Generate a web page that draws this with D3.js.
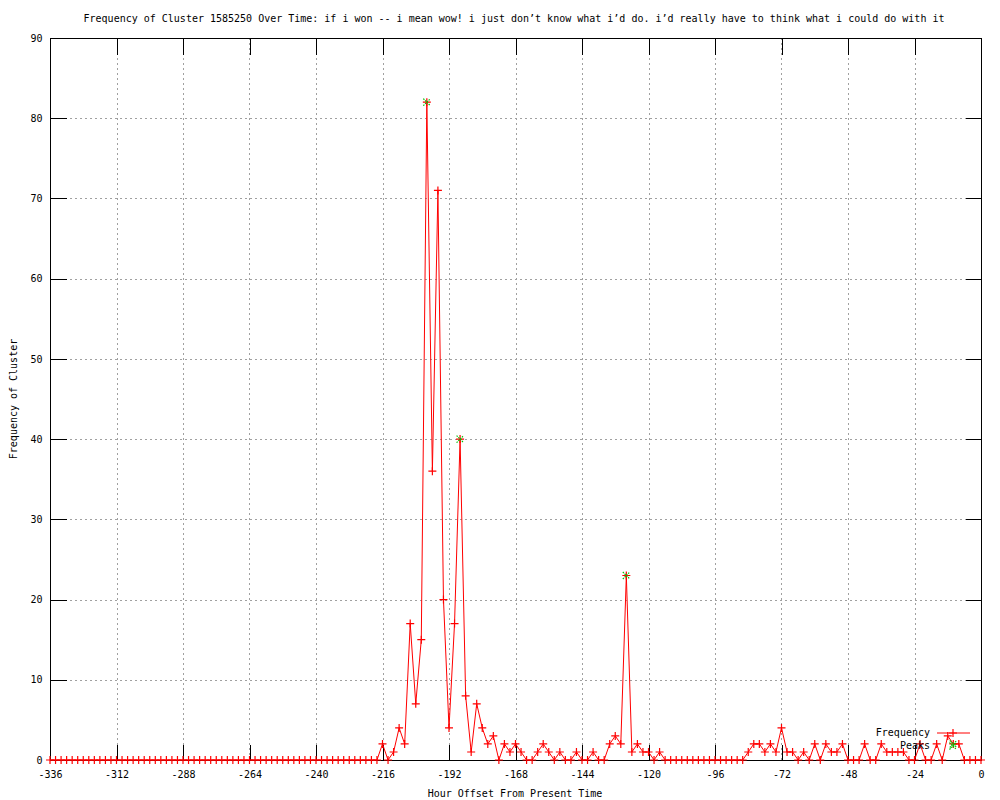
<!DOCTYPE html>
<html>
<head>
<meta charset="utf-8">
<script src="https://cdn.jsdelivr.net/npm/d3@7"></script>
<style>
  body { margin: 0; background: #fff; }
  text { font-family: "DejaVu Sans Mono", "Liberation Mono", monospace; font-size: 10px; fill: #000; }
</style>
</head>
<body>
<script>
// hour offsets (every 2 hours) and cluster frequency
var hours = [-336,-334,-332,-330,-328,-326,-324,-322,-320,-318,-316,-314,-312,-310,-308,-306,-304,-302,-300,-298,
  -296,-294,-292,-290,-288,-286,-284,-282,-280,-278,-276,-274,-272,-270,-268,-266,-264,-262,-260,-258,
  -256,-254,-252,-250,-248,-246,-244,-242,-240,-238,-236,-234,-232,-230,-228,-226,-224,-222,-220,-218,
  -216,-214,-212,-210,-208,-206,-204,-202,-200,-198,-196,-194,-192,-190,-188,-186,-184,-182,-180,-178,
  -176,-174,-172,-170,-168,-166,-164,-162,-160,-158,-156,-154,-152,-150,-148,-146,-144,-142,-140,-138,
  -136,-134,-132,-130,-128,-126,-124,-122,-120,-118,-116,-114,-112,-110,-108,-106,-104,-102,-100,-98,
  -96,-94,-92,-90,-88,-86,-84,-82,-80,-78,-76,-74,-72,-70,-68,-66,-64,-62,-60,-58,
  -56,-54,-52,-50,-48,-46,-44,-42,-40,-38,-36,-34,-32,-30,-28,-26,-24,-22,-20,-18,
  -16,-14,-12,-10,-8,-6,-4,-2,0];

var frequency = [0,0,0,0,0,0,0,0,0,0,0,0,0,0,0,0,0,0,0,0,
  0,0,0,0,0,0,0,0,0,0,0,0,0,0,0,0,0,0,0,0,
  0,0,0,0,0,0,0,0,0,0,0,0,0,0,0,0,0,0,0,0,
  2,0,1,4,2,17,7,15,82,36,71,20,4,17,40,8,1,7,4,2,
  3,0,2,1,2,1,0,0,1,2,1,0,1,0,0,1,0,0,1,0,
  0,2,3,2,23,1,2,1,1,0,1,0,0,0,0,0,0,0,0,0,
  0,0,0,0,0,0,1,2,2,1,2,1,4,1,1,0,1,0,2,0,
  2,1,1,2,0,0,0,2,0,0,2,1,1,1,1,0,0,2,0,0,
  2,0,3,2,2,0,0,0,0];

var peakHours = [-200, -188, -128, -10];
var peakValues = [82, 40, 23, 2];

var xTicks = [-336,-312,-288,-264,-240,-216,-192,-168,-144,-120,-96,-72,-48,-24,0];
var yTicks = [0,10,20,30,40,50,60,70,80,90];

var title = "Frequency of Cluster 1585250 Over Time: if i won -- i mean wow! i just don\u2019t know what i\u2019d do. i\u2019d really have to think what i could do with it";

var plotL = 50, plotR = 981, plotT = 38, plotB = 760;

var svg = d3.select("body").append("svg")
  .attr("width", 1000)
  .attr("height", 800);

svg.append("rect").attr("width", 1000).attr("height", 800).attr("fill", "#fff");

var x = d3.scaleLinear().domain([-336, 0]).range([plotL, plotR]);
var y = d3.scaleLinear().domain([0, 90]).range([plotB, plotT]);

// grid
var grid = svg.append("g").attr("stroke", "#a0a0a0").attr("stroke-dasharray", "2,3");
grid.selectAll(".gx")
  .data(xTicks.slice(1, -1))
  .enter().append("line")
  .attr("x1", function(d) { return Math.round(x(d)) + 0.5; })
  .attr("x2", function(d) { return Math.round(x(d)) + 0.5; })
  .attr("y1", plotT).attr("y2", plotB);
grid.selectAll(".gy")
  .data(yTicks.slice(1, -1))
  .enter().append("line")
  .attr("y1", function(d) { return Math.round(y(d)) + 0.5; })
  .attr("y2", function(d) { return Math.round(y(d)) + 0.5; })
  .attr("x1", plotL).attr("x2", plotR);

// axes, ticks pointing inward
var tickLen = 16;
var fmt = function(d) { return String(d); };

var xb = svg.append("g")
  .attr("transform", "translate(0," + (plotB + 0.5) + ")")
  .call(d3.axisBottom(x).tickValues(xTicks).tickSizeInner(-tickLen).tickSizeOuter(0).tickPadding(10).tickFormat(fmt));
var xt = svg.append("g")
  .attr("transform", "translate(0," + (plotT + 0.5) + ")")
  .call(d3.axisTop(x).tickValues(xTicks).tickSizeInner(-tickLen).tickSizeOuter(0).tickFormat(""));
var yl = svg.append("g")
  .attr("transform", "translate(" + (plotL + 0.5) + ",0)")
  .call(d3.axisLeft(y).tickValues(yTicks).tickSizeInner(-tickLen).tickSizeOuter(0).tickPadding(8).tickFormat(fmt));
var yr = svg.append("g")
  .attr("transform", "translate(" + (plotR + 0.5) + ",0)")
  .call(d3.axisRight(y).tickValues(yTicks).tickSizeInner(-tickLen).tickSizeOuter(0).tickFormat(""));

[xb, xt, yl, yr].forEach(function(g) {
  g.select(".domain").remove();
  g.selectAll("line").attr("stroke", "#000").attr("shape-rendering", "crispEdges");
  g.selectAll("text").attr("fill", "#000");
  g.attr("font-family", null).attr("font-size", null);
});

svg.append("rect")
  .attr("x", plotL + 0.5).attr("y", plotT + 0.5)
  .attr("width", plotR - plotL).attr("height", plotB - plotT)
  .attr("fill", "none").attr("stroke", "#000").attr("shape-rendering", "crispEdges");

// frequency line
var points = hours.map(function(h, i) { return {h: h, v: frequency[i]}; });

var valueline = d3.line()
  .x(function(d) { return x(d.h); })
  .y(function(d) { return y(d.v); });

svg.append("path")
  .datum(points)
  .attr("fill", "none")
  .attr("stroke", "#ff0000")
  .attr("stroke-width", 1)
  .attr("d", valueline);

var plus = "M-4,0H4M0,-4V4";
var cross = "M-3.5,-3.5L3.5,3.5M-3.5,3.5L3.5,-3.5";

svg.selectAll(".pt")
  .data(points)
  .enter().append("path")
  .attr("transform", function(d) { return "translate(" + x(d.h) + "," + y(d.v) + ")"; })
  .attr("d", plus)
  .attr("stroke", "#ff0000")
  .attr("stroke-width", 1.2);

// peaks
svg.selectAll(".peak")
  .data(peakHours)
  .enter().append("path")
  .attr("transform", function(d, i) { return "translate(" + x(d) + "," + y(peakValues[i]) + ")"; })
  .attr("d", cross)
  .attr("stroke", "#00c000")
  .attr("stroke-width", 1.2)
  .attr("stroke-dasharray", "1.5,1");

// legend
svg.append("text").attr("x", 930).attr("y", 736).attr("text-anchor", "end").text("Frequency");
svg.append("line").attr("x1", 937).attr("x2", 970).attr("y1", 733).attr("y2", 733).attr("stroke", "#ff0000");
svg.append("path").attr("transform", "translate(953,733)").attr("d", plus).attr("stroke", "#ff0000").attr("stroke-width", 1.2);
svg.append("text").attr("x", 930).attr("y", 749).attr("text-anchor", "end").text("Peaks");
svg.append("path").attr("transform", "translate(953,746)").attr("d", cross).attr("stroke", "#00c000").attr("stroke-width", 1.2).attr("stroke-dasharray", "1.5,1");

// titles
svg.append("text").attr("x", 514).attr("y", 22).attr("text-anchor", "middle").text(title);
svg.append("text").attr("x", 515).attr("y", 797).attr("text-anchor", "middle").text("Hour Offset From Present Time");
svg.append("text")
  .attr("transform", "translate(17,399) rotate(-90)")
  .attr("text-anchor", "middle")
  .text("Frequency of Cluster");
</script>
</body>
</html>
